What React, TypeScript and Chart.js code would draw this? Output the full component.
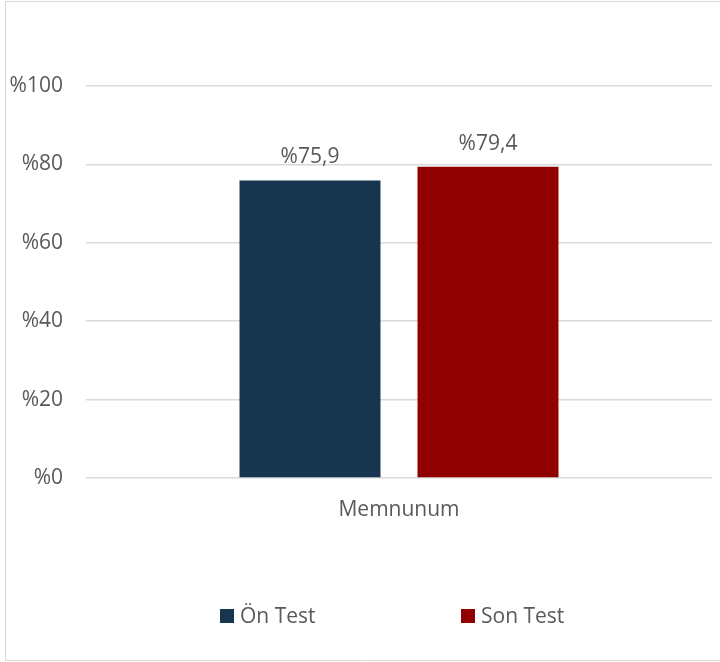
import React, { useEffect, useRef } from "react";
import { Chart, registerables } from "chart.js";

Chart.register(...registerables);

const categories = ["Memnunum"];
const seriesNames = ["Ön Test", "Son Test"];
const onTest = [75.9];
const sonTest = [79.4];
const seriesColors = ["#17354F", "#900000"];
const yTicks = [0, 20, 40, 60, 80, 100];

const TEXT = "#595959";
const FONT = "'Open Sans', 'DejaVu Sans', sans-serif";

const fmt = (v: number) => "%" + String(v).replace(".", ",");

const frame = {
  id: "frame",
  beforeDraw(chart: Chart) {
    const { ctx, width, height } = chart;
    ctx.save();
    ctx.fillStyle = "#ffffff";
    ctx.fillRect(0, 0, width, height);
    ctx.strokeStyle = "#d9d9d9";
    ctx.lineWidth = 1;
    ctx.beginPath();
    ctx.moveTo(5.5, height - 1.5);
    ctx.lineTo(5.5, 1.5);
    ctx.lineTo(width + 2, 1.5);
    ctx.moveTo(5.5, height - 1.5);
    ctx.lineTo(width + 2, height - 1.5);
    ctx.stroke();
    ctx.restore();
  },
};

const valueLabels = {
  id: "valueLabels",
  afterDatasetsDraw(chart: Chart) {
    const { ctx } = chart;
    ctx.save();
    ctx.font = `21px ${FONT}`;
    ctx.fillStyle = TEXT;
    ctx.textAlign = "center";
    ctx.textBaseline = "alphabetic";
    chart.data.datasets.forEach((ds, i) => {
      chart.getDatasetMeta(i).data.forEach((bar: any, j) => {
        const v = ds.data[j] as number;
        ctx.fillText(fmt(v), bar.x, bar.y - 17);
      });
    });
    ctx.restore();
  },
};

const bottomLegend = {
  id: "bottomLegend",
  afterDraw(chart: Chart) {
    const { ctx } = chart;
    const startX = 220;
    const slot = 241;
    const boxTop = 609;
    const box = 14;
    ctx.save();
    ctx.font = `21px ${FONT}`;
    ctx.textBaseline = "middle";
    ctx.textAlign = "left";
    chart.data.datasets.forEach((ds, i) => {
      const x = startX + i * slot;
      ctx.fillStyle = ds.backgroundColor as string;
      ctx.fillRect(x, boxTop, box, box);
      ctx.fillStyle = TEXT;
      ctx.fillText(ds.label as string, x + box + 6, boxTop + box / 2 + 1);
    });
    ctx.restore();
  },
};

export default function App() {
  const ref = useRef<HTMLCanvasElement>(null);

  useEffect(() => {
    document.body.style.margin = "0";
    if (!ref.current) return;
    const chart = new Chart(ref.current, {
      type: "bar",
      data: {
        labels: categories,
        datasets: [
          {
            label: seriesNames[0],
            data: onTest,
            backgroundColor: seriesColors[0],
          },
          {
            label: seriesNames[1],
            data: sonTest,
            backgroundColor: seriesColors[1],
          },
        ],
      },
      options: {
        responsive: false,
        animation: false,
        events: [],
        layout: { padding: { top: 86, right: 8, left: 0, bottom: 0 } },
        datasets: {
          bar: { categoryPercentage: 0.5687, barPercentage: 0.792 },
        },
        plugins: {
          legend: { display: false },
          tooltip: { enabled: false },
        },
        scales: {
          x: {
            grid: { display: false, drawTicks: false },
            border: { display: false },
            ticks: {
              color: TEXT,
              font: { family: FONT, size: 21 },
              padding: 19,
            },
            afterFit(scale: any) {
              scale.height = 184;
            },
          },
          y: {
            min: 0,
            max: 100,
            afterBuildTicks(scale: any) {
              scale.ticks = yTicks.map((v) => ({ value: v }));
            },
            grid: { color: "#d9d9d9", lineWidth: 1.5, drawTicks: false },
            border: { display: false },
            ticks: {
              color: TEXT,
              font: { family: FONT, size: 21 },
              padding: 23,
              callback: (v: any) => "%" + v,
            },
            afterFit(scale: any) {
              scale.width = 86;
            },
          },
        },
      },
      plugins: [frame, valueLabels, bottomLegend],
    });
    return () => chart.destroy();
  }, []);

  return (
    <div style={{ position: "absolute", left: 0, top: 0, width: 720, height: 662 }}>
      <canvas ref={ref} width={720} height={662} />
    </div>
  );
}
